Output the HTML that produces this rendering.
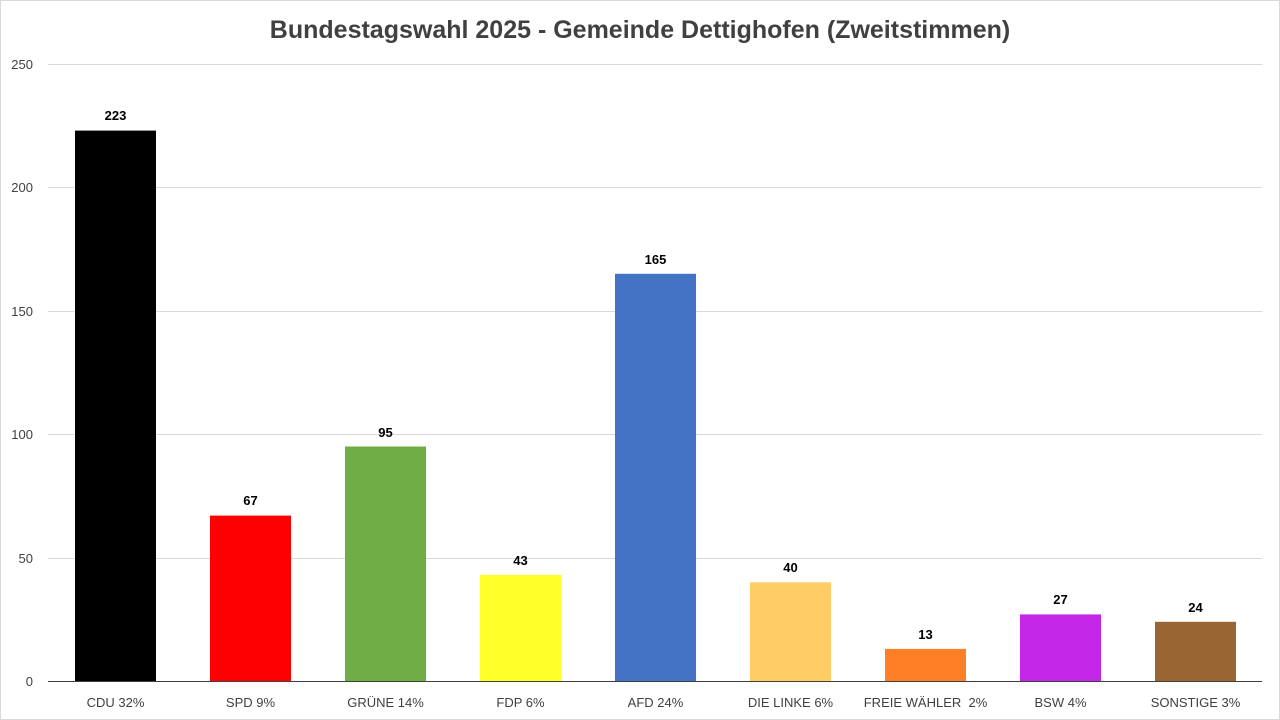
<!DOCTYPE html>
<html><head><meta charset="utf-8"><style>
html,body{margin:0;padding:0;background:#fff;}
svg{display:block;font-family:"Liberation Sans",sans-serif;}
</style></head><body>
<svg width="1280" height="720" viewBox="0 0 1280 720">
<rect x="0.5" y="0.5" width="1279" height="719" fill="#fff" stroke="#d9d9d9"/>
<text x="640" y="38" text-anchor="middle" font-size="25" font-weight="bold" fill="#404040">Bundestagswahl 2025 - Gemeinde Dettighofen (Zweitstimmen)</text>
<g stroke="#d9d9d9" stroke-width="1">
<line x1="48" x2="1262" y1="64.5" y2="64.5"/>
<line x1="48" x2="1262" y1="187.5" y2="187.5"/>
<line x1="48" x2="1262" y1="311.5" y2="311.5"/>
<line x1="48" x2="1262" y1="434.5" y2="434.5"/>
<line x1="48" x2="1262" y1="558.5" y2="558.5"/>
</g>
<g font-size="13" fill="#404040" text-anchor="end">
<text x="33" y="69">250</text><text x="33" y="192">200</text><text x="33" y="316">150</text>
<text x="33" y="439">100</text><text x="33" y="563">50</text><text x="33" y="686">0</text>
</g>
<g>
<rect x="75" y="130.6" width="81" height="550.4" fill="#000"/>
<rect x="210" y="515.6" width="81" height="165.4" fill="#ff0000"/>
<rect x="345" y="446.5" width="81" height="234.5" fill="#70ad47"/>
<rect x="480" y="574.9" width="81" height="106.1" fill="#ffff29"/>
<rect x="615" y="273.8" width="81" height="407.2" fill="#4472c4"/>
<rect x="750" y="582.3" width="81" height="98.7" fill="#ffcc66"/>
<rect x="885" y="648.9" width="81" height="32.1" fill="#ff7f27"/>
<rect x="1020" y="614.4" width="81" height="66.6" fill="#c427e8"/>
<rect x="1155" y="621.8" width="81" height="59.2" fill="#996633"/>
</g>
<line x1="48" x2="1262" y1="681.5" y2="681.5" stroke="#404040"/>
<g font-size="13" font-weight="bold" fill="#000" text-anchor="middle">
<text x="115.5" y="120">223</text><text x="250.5" y="505">67</text><text x="385.5" y="437">95</text>
<text x="520.5" y="565">43</text><text x="655.5" y="264">165</text><text x="790.5" y="572">40</text>
<text x="925.5" y="639">13</text><text x="1060.5" y="604">27</text><text x="1195.5" y="612">24</text>
</g>
<g font-size="13" fill="#404040" text-anchor="middle">
<text x="115.5" y="707">CDU 32%</text><text x="250.5" y="707">SPD 9%</text><text x="385.5" y="707">GRÜNE 14%</text>
<text x="520.5" y="707">FDP 6%</text><text x="655.5" y="707">AFD 24%</text><text x="790.5" y="707">DIE LINKE 6%</text>
<text x="925.5" y="707" xml:space="preserve">FREIE WÄHLER  2%</text><text x="1060.5" y="707">BSW 4%</text><text x="1195.5" y="707">SONSTIGE 3%</text>
</g>
</svg>
</body></html>
